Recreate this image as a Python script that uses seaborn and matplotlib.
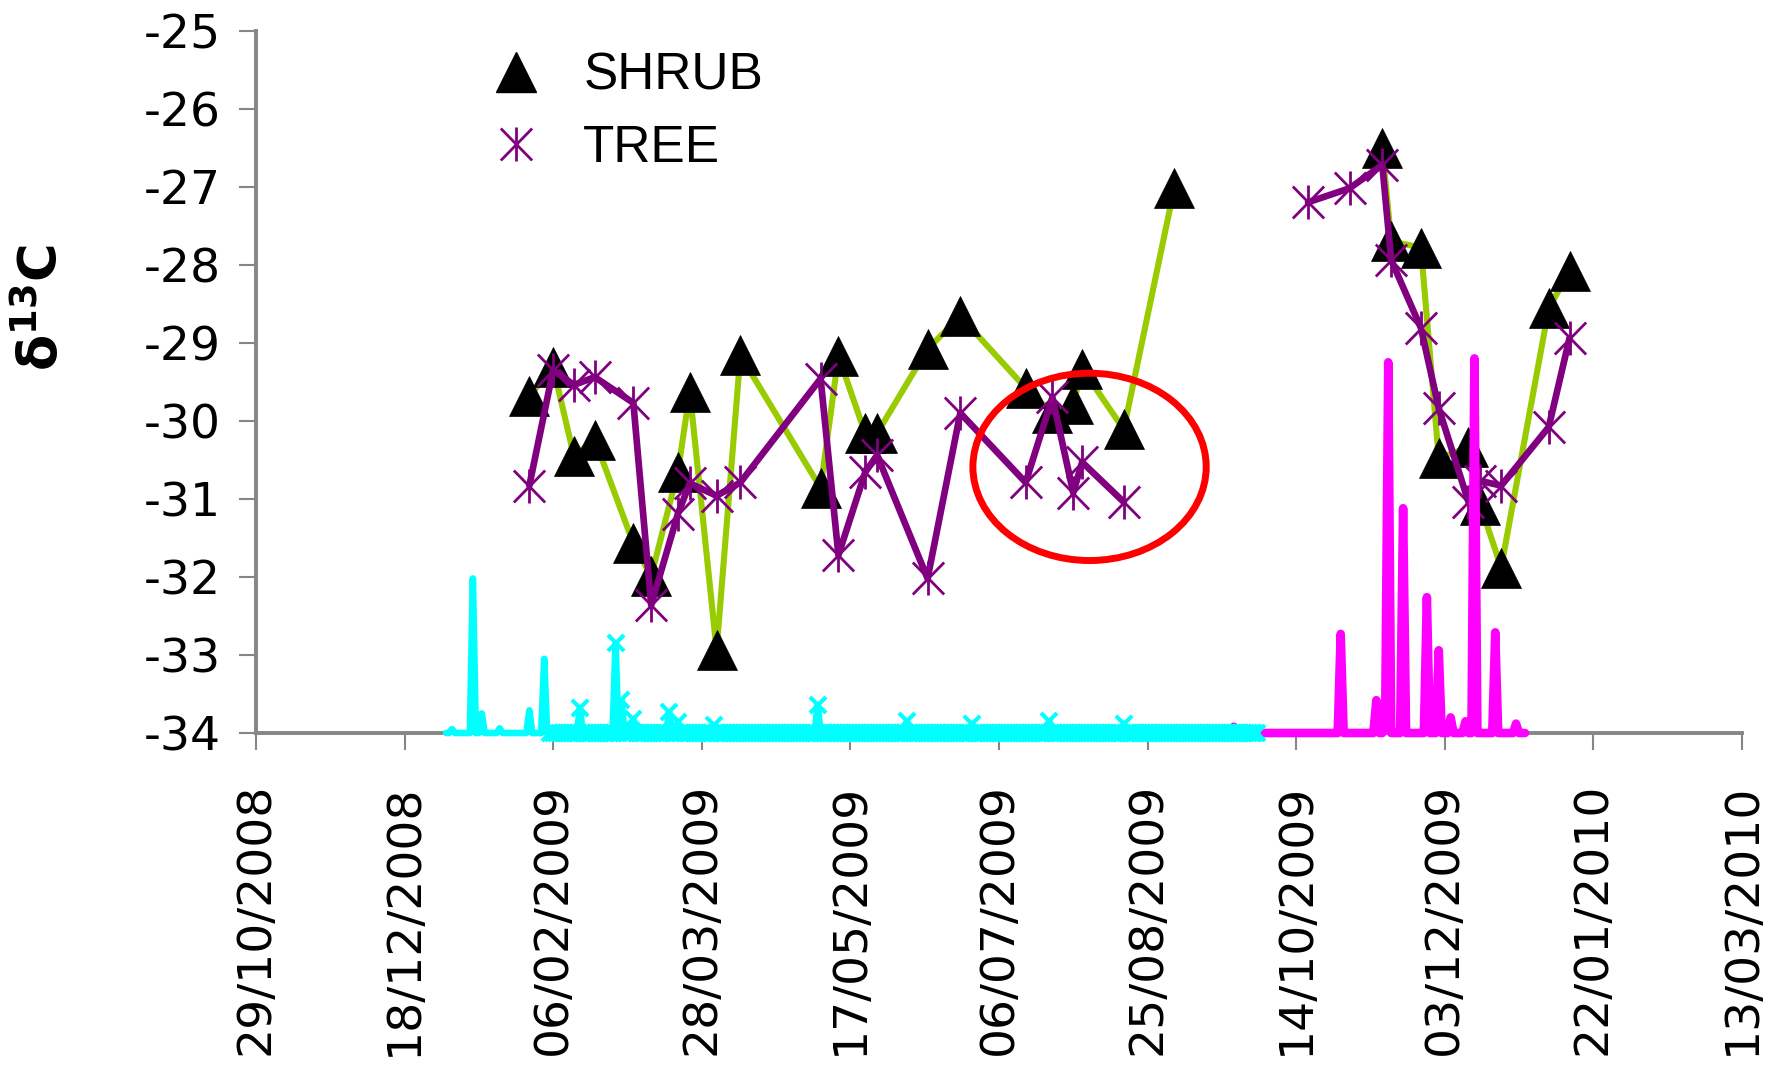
import matplotlib
matplotlib.use("Agg")
import matplotlib.pyplot as plt
import matplotlib.dates as mdates
from matplotlib.lines import Line2D
from matplotlib.path import Path
from matplotlib.patches import Ellipse
import pandas as pd
import seaborn as sns

# ---------------- data ----------------
shrub_dates = ["2009-01-29", "2009-02-06", "2009-02-13", "2009-02-20", "2009-03-05",
               "2009-03-11", "2009-03-20", "2009-03-24", "2009-04-02", "2009-04-10",
               "2009-05-07", "2009-05-13", "2009-05-22", "2009-05-26", "2009-06-12",
               "2009-06-23", "2009-07-15", "2009-07-24", "2009-07-31", "2009-08-03",
               "2009-08-17", "2009-09-03",
               "2009-11-12", "2009-11-15", "2009-11-25", "2009-12-01", "2009-12-11",
               "2009-12-15", "2009-12-22", "2010-01-07", "2010-01-14"]
shrub_d13c = [-29.68, -29.31, -30.45, -30.24, -31.57, -31.99, -30.65, -29.63, -32.94, -29.16,
              -30.86, -29.17, -30.16, -30.16, -29.08, -28.66, -29.58, -29.90, -29.79, -29.33,
              -30.11, -27.02,
              -26.51, -27.70, -27.78, -30.48, -30.34, -31.08, -31.88, -28.56, -28.08]

tree_dates = ["2009-01-29", "2009-02-06", "2009-02-13", "2009-02-20", "2009-03-05",
              "2009-03-11", "2009-03-20", "2009-03-24", "2009-04-02", "2009-04-10",
              "2009-05-07", "2009-05-13", "2009-05-22", "2009-05-26", "2009-06-12",
              "2009-06-23", "2009-07-15", "2009-07-24", "2009-07-31", "2009-08-03",
              "2009-08-17",
              "2009-10-18", "2009-11-01", "2009-11-12", "2009-11-15", "2009-11-25",
              "2009-12-01", "2009-12-11", "2009-12-15", "2009-12-22", "2010-01-07",
              "2010-01-14"]
tree_d13c = [-30.83, -29.35, -29.54, -29.44, -29.77, -32.36, -31.19, -30.80, -30.96, -30.79,
             -29.46, -31.72, -30.66, -30.44, -32.02, -29.90, -30.79, -29.70, -30.92, -30.53,
             -31.04,
             -27.20, -27.02, -26.72, -27.94, -28.81, -29.84, -31.04, -30.77, -30.83, -30.08,
             -28.94]

# daily rain records (mm), days not listed are dry
rain1_period = ("2009-01-01", "2009-10-01")
rain1_dates = ["2009-01-03", "2009-01-10", "2009-01-13", "2009-01-19", "2009-01-29",
               "2009-02-03", "2009-02-15", "2009-02-27", "2009-03-01", "2009-03-05",
               "2009-03-17", "2009-03-20", "2009-04-01", "2009-05-06", "2009-06-05",
               "2009-06-27", "2009-07-23", "2009-08-17"]
rain1_mm = [0.5, 19.8, 2.5, 0.6, 2.9, 9.5, 3.2, 11.5, 4.2, 1.8,
            2.7, 1.4, 1.0, 3.6, 1.5, 1.2, 1.5, 1.2]

rain2_period = ("2009-09-02", "2009-12-30")
rain2_dates = ["2009-09-23", "2009-10-29", "2009-11-10", "2009-11-13", "2009-11-14",
               "2009-11-19", "2009-11-27", "2009-12-01", "2009-12-05", "2009-12-10",
               "2009-12-13", "2009-12-20", "2009-12-27"]
rain2_mm = [0.8, 12.7, 4.2, 3.0, 47.5, 28.8, 17.4, 10.6, 2.0, 1.5, 48.0, 12.9, 1.2]

x_ticks = pd.date_range("2008-10-29", "2010-03-13", freq="50D")
y_ticks = list(range(-34, -24))

# highlighted group
circle_center = ("2009-08-05 12:00", -30.59)
circle_size = (78.5, 2.40)   # days, per mil

GREEN = "#99CC00"
PURPLE = "#800080"
CYAN = "#00FFFF"
MAGENTA = "#FF00FF"
GREY = "#868686"


def samples(dates, values):
    df = pd.DataFrame({"date": pd.to_datetime(dates), "d13c": values})
    # break the line where there is a long gap between samples
    df["seg"] = (df["date"].diff().dt.days > 40).cumsum()
    return df


def daily(period, dates, mm):
    idx = pd.date_range(*period, freq="D")
    s = pd.Series(mm, index=pd.to_datetime(dates)).reindex(idx, fill_value=0.0)
    return s.rename_axis("date").reset_index(name="mm")


shrub = samples(shrub_dates, shrub_d13c)
tree = samples(tree_dates, tree_d13c)
rain1 = daily(rain1_period, rain1_dates, rain1_mm)
rain2 = daily(rain2_period, rain2_dates, rain2_mm)

# excel style asterisk marker
star = Path([(0, -1), (0, 1), (-0.92, -0.94), (0.92, 0.94), (-0.92, 0.94), (0.92, -0.94)],
            [Path.MOVETO, Path.LINETO] * 3)

sns.set_style("white")
plt.rcParams["font.family"] = ["DejaVu Sans"]
plt.rcParams["axes.unicode_minus"] = False

fig = plt.figure(figsize=(17.76, 10.74), dpi=100)
ax = fig.add_axes([0.1441, 0.3175, 0.8367, 0.6540])

sns.lineplot(data=shrub, x="date", y="d13c", units="seg", estimator=None, ax=ax,
             color=GREEN, lw=4.4, marker="^", markersize=29,
             markerfacecolor="black", markeredgecolor="black", markeredgewidth=0.5)
sns.lineplot(data=tree, x="date", y="d13c", units="seg", estimator=None, ax=ax,
             color=PURPLE, lw=4.8, marker=star, markersize=24.5,
             markeredgecolor=PURPLE, markeredgewidth=2)

ell = Ellipse((mdates.date2num(pd.Timestamp(circle_center[0])), circle_center[1]),
              width=circle_size[0], height=circle_size[1],
              fill=False, edgecolor="#FF0000", lw=5, zorder=5)
ax.add_patch(ell)

ax.set_xlim(x_ticks[0], x_ticks[-1])
ax.set_ylim(-34, -25)
ax.set_xticks(x_ticks)
ax.xaxis.set_major_formatter(mdates.DateFormatter("%d/%m/%Y"))
ax.set_yticks(y_ticks)
ax.set_xlabel("")
ax.set_ylabel("")
for side in ["top", "right"]:
    ax.spines[side].set_visible(False)
for side in ["left", "bottom"]:
    ax.spines[side].set_color(GREY)
    ax.spines[side].set_linewidth(2.8)
ax.tick_params(axis="both", direction="out", length=12, width=1.5, color=GREY,
               labelsize=34, labelcolor="black", left=True, bottom=True)
ax.tick_params(axis="y", pad=13)
ax.tick_params(axis="x", pad=24, labelrotation=90)

# rain on a hidden second scale
ax2 = ax.twinx()
sns.lineplot(data=rain2, x="date", y="mm", ax=ax2, color=MAGENTA, lw=6.2, clip_on=False)
start = (pd.Timestamp("2009-02-05") - rain1["date"].iloc[0]).days
sns.lineplot(data=rain1, x="date", y="mm", ax=ax2, color=CYAN, lw=4.8, clip_on=False,
             marker="x", markersize=11, markeredgewidth=3, markeredgecolor=CYAN,
             markevery=slice(start, None))
ax2.set_ylim(0, 90)
ax2.set_xlim(x_ticks[0], x_ticks[-1])
ax2.axis("off")

fig.text(42 / 1776, 1 - 308 / 1074, r"δ$^{\mathbf{13}}$C", rotation=90, color="black",
         fontsize=38, fontweight="bold", ha="center", va="center")

handles = [Line2D([], [], ls="none", marker="^", markersize=29, color="black"),
           Line2D([], [], ls="none", marker=star, markersize=24.5,
                  markeredgecolor=PURPLE, markeredgewidth=2, color=PURPLE)]
ax2.legend(handles, ["SHRUB", "TREE"], loc="upper left", bbox_to_anchor=(0.158, 0.97),
           frameon=False, handlelength=1.0, handletextpad=0.8,
           labelspacing=0.45, borderpad=0, borderaxespad=0, labelcolor="black",
           prop={"family": "Liberation Sans", "size": 37})

fig.savefig("out.png", dpi=100)
